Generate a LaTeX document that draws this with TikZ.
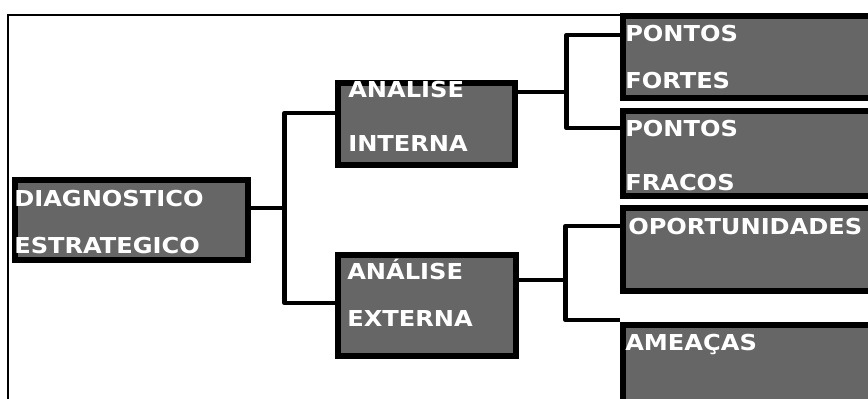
\documentclass[tikz,border=0pt]{standalone}
\usepackage{fontspec}
\newfontfamily\panelfont[FakeStretch=1.1]{DejaVu Sans}
\usetikzlibrary{calc}
\tikzset{
  panel/.style={draw=black,line width=4pt,fill=black!60,anchor=north west,inner sep=0pt},
  paneltext/.style={anchor=base west,inner sep=0pt,align=left,text width=8cm,text=white,
    font=\panelfont\bfseries\fontsize{15.6}{33.4}\selectfont},
  branch/.style={line width=3.3pt,draw=black,line join=round},
  frameline/.style={line width=1.6pt,draw=black}
}

\begin{document}
\begin{tikzpicture}[x=0.025cm,y=-0.025cm]
\useasboundingbox (0,0) rectangle (868,399);
\clip (0,0) rectangle (868,399);
\draw[frameline] (8,15) rectangle (900,430);
% boxes
\node[panel,minimum width=5.825cm,minimum height=2cm] (diag) at (12,177) {};
\node[panel,minimum width=4.425cm,minimum height=2.05cm] (intern) at (335,80) {};
\node[panel,minimum width=4.45cm,minimum height=2.525cm] (extern) at (335,252) {};
\node[panel,minimum width=7.5cm,minimum height=2.05cm] (fortes) at (620,13) {};
\node[panel,minimum width=7.5cm,minimum height=2.125cm] (fracos) at (620,108) {};
\node[panel,minimum width=7.5cm,minimum height=2.075cm] (oport) at (620,205) {};
\node[panel,minimum width=7.5cm,minimum height=2.5cm] (ameacas) at (620,322) {};
% texts
\node[paneltext] (diagtxt) at (14,207) {DIAGNOSTICO\\ESTRATEGICO};
\node[paneltext] (interntxt) at (348,98) {ANÁLISE\\[5pt]INTERNA};
\node[paneltext] (externtxt) at (347,280) {ANÁLISE\\EXTERNA};
\node[paneltext] (fortestxt) at (625,42) {PONTOS\\FORTES};
\node[paneltext] (fracostxt) at (625,137) {PONTOS\\[5pt]FRACOS};
\node[paneltext] (oporttxt) at (628,235) {OPORTUNIDADES};
\node[paneltext] (ameacastxt) at (625,350) {AMEAÇAS};
% connectors
\draw[branch] ($(diag.north east)+(0,31)$) -- ++(34,0) coordinate (diagj);
\draw[branch] ($(intern.north west)+(0,33)$) -| (diagj) |- ($(extern.north west)+(0,51)$);
\draw[branch] ($(intern.north east)+(0,12)$) -- ++(49,0) coordinate (internj);
\draw[branch] ($(fortes.north west)+(0,22)$) -| (internj) |- ($(fracos.north west)+(0,20)$);
\draw[branch] ($(extern.north east)+(0,28)$) -- ++(47,0) coordinate (externj);
\draw[branch] ($(oport.north west)+(0,21)$) -| (externj) |- ($(ameacas.north west)+(0,-2)$);
\end{tikzpicture}
\end{document}
